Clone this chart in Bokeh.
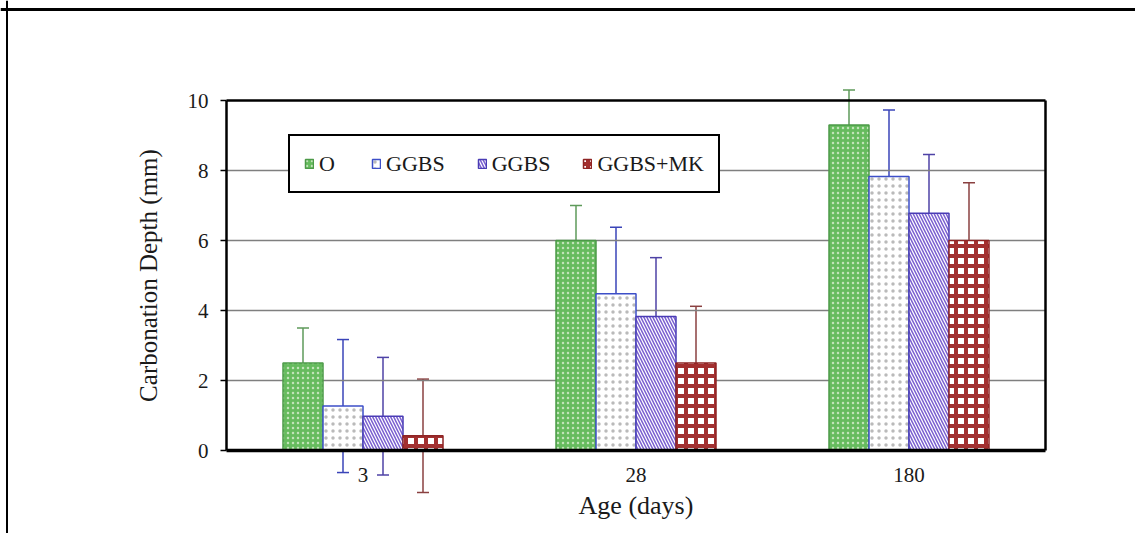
import numpy as np
from bokeh.plotting import figure
from bokeh.models import (Range1d, LinearAxis, FixedTicker, Span, Legend, LegendItem,
                          Whisker, ColumnDataSource, TeeHead)
from bokeh.embed import file_html
from bokeh.resources import INLINE

# ---------------- data ----------------
ages = ["3", "28", "180"]
series_labels = ["O", "GGBS", "GGBS", "GGBS+MK"]
o_vals = [2.5, 6.0, 9.3]
o_err = [1.0, 1.0, 1.0]
ggbs_vals = [1.27, 4.48, 7.83]
ggbs_err = [1.9, 1.9, 1.9]
ggbs2_vals = [0.98, 3.83, 6.78]
ggbs2_err = [1.68, 1.68, 1.68]
mk_vals = [0.42, 2.5, 6.0]
mk_err = [1.62, 1.62, 1.65]
y_ticks = [0, 2, 4, 6, 8, 10]

# ---------------- layout (pixels) ----------------
W, H = 1135, 533
X0, X1 = 226, 1045        # plot box left/right
Y0, Y1 = 450, 100         # pixel of value 0 / value 10
ymax = 10
n = len(ages)
pxu = (X1 - X0) / n
pyu = (Y0 - Y1) / ymax

x_range = Range1d(-X0 / pxu, n + (W - X1) / pxu)
y_range = Range1d(-(H - Y0) / pyu, Y0 / pyu)

p = figure(frame_width=W, frame_height=H, x_range=x_range, y_range=y_range,
           output_backend="svg", toolbar_location=None, min_border=0,
           x_axis_type=None, y_axis_type=None)
p.outline_line_color = None
p.background_fill_color = "white"
p.border_fill_color = "white"

FONT = "Liberation Serif"
TXT = "#1a1a1a"

# grid lines inside the plot box
grid_y = y_ticks[1:-1]
p.segment(x0=[0] * len(grid_y), x1=[n] * len(grid_y), y0=grid_y, y1=grid_y,
          line_color="#7f7f7f", line_width=1.5)

centers = np.arange(n) + 0.5
bw = 40 / pxu
styles = [
    dict(fill_color="#66bb5e", line_color="#4c9a48", hatch_pattern="dot",
         hatch_color="#e8f5e0", hatch_alpha=0.7, hatch_scale=5, hatch_weight=1,
         err_color="#5e9a5a"),
    dict(fill_color="white", line_color="#3d4fc8", hatch_pattern="dot",
         hatch_color="#666666", hatch_alpha=0.45, hatch_scale=7, hatch_weight=1,
         err_color="#3a44b8"),
    dict(fill_color="white", line_color="#4a3cb5", hatch_pattern="left_diagonal_line",
         hatch_color="#7a5fd0", hatch_alpha=1.0, hatch_scale=6, hatch_weight=1.5,
         err_color="#4e42a6"),
    dict(fill_color="white", line_color="#8e2424", hatch_pattern="cross",
         hatch_color="#a33030", hatch_alpha=1.0, hatch_scale=10, hatch_weight=4,
         err_color="#8a4040"),
]
vals_list = [o_vals, ggbs_vals, ggbs2_vals, mk_vals]
err_list = [o_err, ggbs_err, ggbs2_err, mk_err]

renderers = []
for i, (vals, errs, st) in enumerate(zip(vals_list, err_list, styles)):
    xs = centers + (i - 1.5) * bw
    v = np.array(vals)
    e = np.array(errs)
    src = ColumnDataSource(dict(x=xs, top=v, upper=v + e, lower=v - e))
    r = p.vbar(x="x", top="top", bottom=0, width=bw, source=src,
               fill_color=st["fill_color"], line_color=st["line_color"], line_width=1.5,
               hatch_pattern=st["hatch_pattern"], hatch_color=st["hatch_color"],
               hatch_alpha=st["hatch_alpha"], hatch_scale=st["hatch_scale"],
               hatch_weight=st["hatch_weight"])
    renderers.append(r)
    wk = Whisker(base="x", upper="upper", lower="lower", source=src,
                 line_color=st["err_color"], line_width=1.5,
                 upper_head=TeeHead(size=12, line_color=st["err_color"], line_width=1.5),
                 lower_head=TeeHead(size=12, line_color=st["err_color"], line_width=1.5))
    p.add_layout(wk)

# ---------------- axes ----------------
yaxis = LinearAxis(fixed_location=0, bounds=(0, ymax), ticker=FixedTicker(ticks=y_ticks),
                   axis_label="Carbonation Depth (mm)")
yaxis.axis_line_width = 2.5
yaxis.axis_line_color = "black"
yaxis.major_tick_out = 6
yaxis.major_tick_in = 0
yaxis.major_tick_line_width = 1.5
yaxis.minor_tick_out = 0
yaxis.minor_tick_in = 0
yaxis.major_label_text_font = FONT
yaxis.major_label_text_font_size = "21px"
yaxis.major_label_text_color = TXT
yaxis.major_label_standoff = 12
yaxis.axis_label_text_font = FONT
yaxis.axis_label_text_font_size = "25px"
yaxis.axis_label_text_font_style = "normal"
yaxis.axis_label_text_color = TXT
yaxis.axis_label_standoff = 23
p.add_layout(yaxis, "left")

xaxis = LinearAxis(fixed_location=0, bounds=(0, n), ticker=FixedTicker(ticks=list(centers)),
                   axis_label="Age (days)")
xaxis.major_label_overrides = {float(c): a for c, a in zip(centers, ages)}
xaxis.axis_line_width = 3.5
xaxis.axis_line_color = "black"
xaxis.major_tick_out = 0
xaxis.major_tick_in = 0
xaxis.minor_tick_out = 0
xaxis.minor_tick_in = 0
xaxis.major_label_text_font = FONT
xaxis.major_label_text_font_size = "21px"
xaxis.major_label_text_color = TXT
xaxis.major_label_standoff = 17
xaxis.axis_label_text_font = FONT
xaxis.axis_label_text_font_size = "26px"
xaxis.axis_label_text_font_style = "normal"
xaxis.axis_label_text_color = TXT
xaxis.axis_label_standoff = 6
p.add_layout(xaxis, "below")

# right and top borders of the plot box
raxis = LinearAxis(fixed_location=n, bounds=(0, ymax), ticker=FixedTicker(ticks=[]),
                   axis_line_width=2.5, axis_line_color="black",
                   major_tick_out=0, minor_tick_out=0, major_label_text_alpha=0)
p.add_layout(raxis, "right")
taxis = LinearAxis(fixed_location=ymax, bounds=(0, n), ticker=FixedTicker(ticks=[]),
                   axis_line_width=2.5, axis_line_color="black",
                   major_tick_out=0, minor_tick_out=0, major_label_text_alpha=0)
p.add_layout(taxis, "above")

# outer frame of the figure image
p.add_layout(Span(location=y_range.end - 9 / pyu, dimension="width",
                  line_color="black", line_width=3))
p.add_layout(Span(location=x_range.start + 6.5 / pxu, dimension="height",
                  line_color="black", line_width=2))

# ---------------- legend ----------------
legend = Legend(items=[LegendItem(label=lab, renderers=[r]) for lab, r in zip(series_labels, renderers)],
                orientation="horizontal", location=(288, H - 193),
                border_line_color="black", border_line_width=2.5, border_line_alpha=1.0,
                background_fill_color="white", background_fill_alpha=1.0,
                label_text_font=FONT, label_text_font_size="22px", label_text_color=TXT,
                glyph_width=10, glyph_height=11, spacing=32, padding=14,
                label_height=27, label_standoff=5, margin=0)
p.add_layout(legend)

open("out.html", "w").write(file_html(p, INLINE))
